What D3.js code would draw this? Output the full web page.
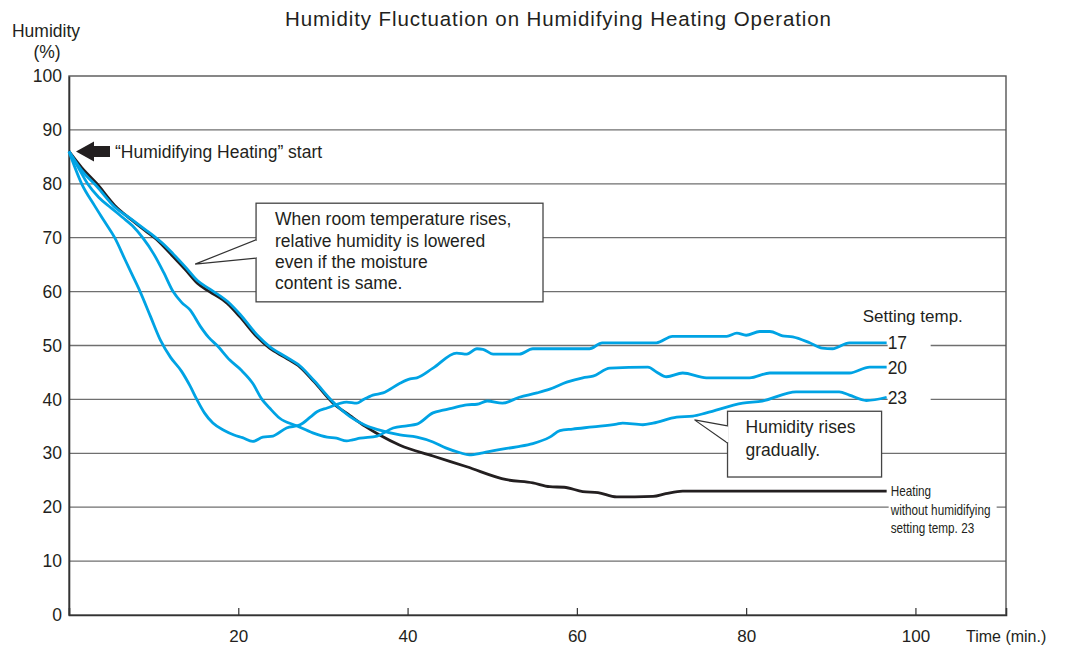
<!DOCTYPE html>
<html>
<head>
<meta charset="utf-8">
<script src="https://cdn.jsdelivr.net/npm/d3@7"></script>
<style>
  html, body { margin: 0; padding: 0; background: #fff; }
  svg { display: block; font-family: "Liberation Sans", Arial, Helvetica, sans-serif; }
</style>
</head>
<body>
<svg id="chart" width="1073" height="646"></svg>
<script>
// Humidity readings, [minutes, % RH]
const series17 = [[0,86],[1.5,80],[3,76],[4.2,73],[5.4,70],[6.6,66],[7.5,63],[8.4,60],[9.6,55.5],[10.8,51],[12,47.8],[13.3,45.2],[14.3,42.5],[15.1,40],[16,37.5],[17,35.6],[18.4,34.2],[19.5,33.4],[20.5,32.9],[21.7,32.2],[22.9,33],[24.1,33.2],[25.7,34.7],[27.3,35.3],[28.5,36.7],[29.3,37.7],[30.5,38.4],[32.8,39.5],[34,39.3],[34.7,39.9],[35.9,40.8],[37.1,41.2],[39.1,43],[40.3,43.8],[41.1,44],[43,45.8],[45.8,48.6],[47,48.4],[48.2,49.4],[48.9,49.3],[50.1,48.4],[53.2,48.4],[54.8,49.4],[61.5,49.4],[63,50.5],[69.4,50.5],[71.3,51.7],[77.7,51.7],[78.9,52.3],[80,51.9],[81.6,52.6],[82.8,52.6],[84.3,51.8],[85.5,51.6],[87.5,50.5],[89,49.5],[90.2,49.4],[92.2,50.5],[96.6,50.5]];

const series20 = [[0,86],[1.1,83],[2.2,80],[3.5,77.5],[5,75.5],[6.3,73.8],[7.5,72.2],[8.7,70],[10,67],[11.2,63.5],[12.3,60],[13.3,58],[14.3,56.6],[15.5,53.6],[16.5,51.5],[17.5,50],[19,47.3],[20.3,45.5],[21.7,43],[22.8,40],[23.7,38.4],[24.9,36.5],[26.9,35.1],[28.8,33.8],[30.5,33],[31.6,32.8],[32.8,32.3],[33.5,32.5],[34.4,32.8],[36.4,33.2],[38.3,34.7],[39.9,35.1],[41.1,35.4],[43,37.5],[44.2,38],[45.3,38.4],[47,39],[48.2,39.1],[49.4,39.7],[51.2,39.3],[53.2,40.4],[55.3,41.2],[56.8,41.9],[58.8,43.2],[60.7,44],[61.9,44.3],[63.9,45.8],[68.4,46],[69.4,45.1],[70.6,44.2],[72.5,44.9],[75.3,44],[80.4,44],[82.8,44.9],[92.2,44.9],[94.6,46],[96.6,46]];

const series23 = [[0,86],[1.5,82.5],[3.3,79.5],[5.4,75.7],[7.4,73.4],[9,71.5],[10.1,70.2],[11.3,68.6],[12.3,67],[13.9,64.3],[15.2,62],[16.6,60.5],[18.7,58.2],[20.2,55.8],[22.2,52],[23.7,49.8],[25.5,48],[27.3,46.2],[29,43.4],[31.2,39.5],[33.2,36.8],[35,35.2],[36.7,34.3],[39.1,33.4],[41.1,33],[43,32.1],[44.5,31],[46.2,30.1],[47.3,29.7],[48.9,30.1],[50.5,30.6],[52.9,31.2],[54.8,31.8],[56.8,33],[58,34.2],[59.5,34.5],[61.9,34.9],[64.7,35.4],[65.4,35.6],[67.8,35.3],[69,35.6],[71.8,36.7],[73.7,36.9],[75.3,37.5],[79.6,39.3],[81.9,39.7],[85.9,41.4],[91,41.4],[92.2,40.8],[94.2,39.8],[96.6,40.4]];

const seriesNoHumid = [[0,86],[1.5,83],[3.3,80],[5.4,76],[7.4,73.3],[9,71.3],[10.1,70],[11.3,68.2],[12.3,66.5],[13.9,63.8],[15.2,61.5],[16.6,60],[18.7,57.8],[20.2,55.3],[22.2,51.6],[23.7,49.5],[25.5,47.8],[27.3,46],[29,43.2],[31.2,39.3],[33.2,37],[35,35],[36.7,33.4],[39.1,31.5],[43,29.5],[47,27.5],[51.7,25.1],[54.8,24.5],[56.8,23.8],[58.5,23.7],[60.7,22.9],[62.5,22.7],[64.7,21.9],[69,22],[70.5,22.5],[72.5,23],[96.6,23]];

const xTicks = [20, 40, 60, 80, 100];
const yTicks = [0, 10, 20, 30, 40, 50, 60, 70, 80, 90, 100];
const endLabels = ["17", "20", "23"];
const noteLines1 = ["When room temperature rises,", "relative humidity is lowered", "even if the moisture", "content is same."];
const noteLines2 = ["Humidity rises", "gradually."];
const baseLabelLines = ["Heating", "without humidifying", "setting temp. 23"];

const BLUE = "#00a3e4";
const BLACK = "#231f20";
const GRID = "#6f6f6f";

const svg = d3.select("#chart");
const x = d3.scaleLinear().domain([0, 110.7]).range([69, 1006]);
const y = d3.scaleLinear().domain([0, 100]).range([615, 76]);

// title and axis caption
svg.append("text").attr("x", 558).attr("y", 26).attr("text-anchor", "middle")
  .attr("font-size", 20.5).attr("fill", "#231f20")
  .attr("textLength", 546).attr("lengthAdjust", "spacing")
  .text("Humidity Fluctuation on Humidifying Heating Operation");
svg.append("text").attr("x", 46).attr("y", 37).attr("text-anchor", "middle")
  .attr("font-size", 17.5).attr("fill", "#231f20").text("Humidity");
svg.append("text").attr("x", 47).attr("y", 58).attr("text-anchor", "middle")
  .attr("font-size", 17.5).attr("fill", "#231f20").text("(%)");

// horizontal grid
svg.append("g").selectAll("line").data(yTicks.filter(d => d > 0 && d < 100)).join("line")
  .attr("x1", x(0)).attr("x2", x.range()[1])
  .attr("y1", d => y(d)).attr("y2", d => y(d))
  .attr("stroke", GRID).attr("stroke-width", 1.3);

// frame
svg.append("rect").attr("x", x(0)).attr("y", y(100))
  .attr("width", x.range()[1] - x(0)).attr("height", y(0) - y(100))
  .attr("fill", "none").attr("stroke", "#555").attr("stroke-width", 1.4);

// axes
const yAxis = d3.axisLeft(y).tickValues(yTicks).tickSize(0).tickPadding(7);
svg.append("g").attr("transform", `translate(${x(0)},0)`).call(yAxis)
  .call(g => g.select(".domain").attr("stroke", "#333").attr("stroke-width", 1.6))
  .call(g => g.selectAll("text").attr("font-size", 17.5).attr("fill", "#231f20")
    .attr("font-family", "'Liberation Sans', Arial, sans-serif"));

const xAxis = d3.axisBottom(x).tickValues(xTicks).tickSize(-7).tickPadding(0);
const xg = svg.append("g").attr("transform", `translate(0,${y(0)})`).call(xAxis);
xg.select(".domain").attr("stroke", "#333").attr("stroke-width", 1.6);
xg.selectAll(".tick line").attr("stroke", "#333").attr("stroke-width", 1.2);
xg.selectAll(".tick text").attr("fill", "#231f20").attr("font-size", 17)
  .attr("font-family", "'Liberation Sans', Arial, sans-serif")
  .attr("dy", 0).attr("y", 27);
svg.append("text").attr("x", 966).attr("y", y(0) + 27)
  .attr("font-size", 16).attr("fill", "#231f20").text("Time (min.)");

// curves
const line = d3.line().x(d => x(d[0])).y(d => y(d[1])).curve(d3.curveMonotoneX);
const plotted = [
  { data: seriesNoHumid, color: BLACK },
  { data: series23, color: BLUE },
  { data: series20, color: BLUE },
  { data: series17, color: BLUE }
];
svg.append("g").selectAll("path").data(plotted).join("path")
  .attr("d", d => line(d.data)).attr("fill", "none")
  .attr("stroke", d => d.color).attr("stroke-width", 2.8)
  .attr("stroke-linejoin", "round").attr("stroke-linecap", "butt");

// setting-temperature labels at the end of each humidified curve
const ends = [series17, series20, series23].map(s => s[s.length - 1]);
const lblX = x(ends[0][0]) + 1;
svg.append("g").selectAll("rect").data(ends).join("rect")
  .attr("x", lblX).attr("y", d => y(d[1]) - 9).attr("width", 43).attr("height", 18)
  .attr("fill", "#fff");
svg.append("text").attr("x", lblX - 25).attr("y", 322)
  .attr("font-size", 17).attr("fill", "#231f20").text("Setting temp.");
svg.append("g").selectAll("text").data(ends).join("text")
  .attr("x", lblX).attr("y", d => y(d[1]) + 6.5)
  .attr("font-size", 17.5).attr("fill", "#231f20")
  .text((d, i) => endLabels[i]);

// label for the curve without humidifying
const nhEnd = seriesNoHumid[seriesNoHumid.length - 1];
svg.append("rect").attr("x", lblX + 1).attr("y", y(20) - 6)
  .attr("width", 108).attr("height", 12).attr("fill", "#fff");
const bl = svg.append("g")
  .attr("transform", `translate(${lblX + 3},${y(nhEnd[1]) + 5}) scale(0.84,1)`);
bl.selectAll("text").data(baseLabelLines).join("text")
  .attr("x", 0).attr("y", (d, i) => i * 18.6)
  .attr("font-size", 14).attr("fill", "#231f20").text(d => d);

// start arrow
const sx = x(0) + 7, sy = y(86);
svg.append("path")
  .attr("d", `M${sx},${sy} L${sx + 18},${sy - 10} L${sx + 18},${sy - 5.5} L${sx + 34},${sy - 5.5} L${sx + 34},${sy + 5.5} L${sx + 18},${sy + 5.5} L${sx + 18},${sy + 10} Z`)
  .attr("fill", "#231f20");
svg.append("text").attr("x", sx + 39).attr("y", sy + 7)
  .attr("font-size", 17.5).attr("fill", "#231f20")
  .text("\u201CHumidifying Heating\u201D start");

// callout boxes
function callout(box, tip, base, lines, pad, lead) {
  const x0 = x(box[0]), x1 = x(box[1]), y0 = y(box[2]), y1 = y(box[3]);
  const g = svg.append("g");
  g.append("rect").attr("x", x0).attr("y", y0).attr("width", x1 - x0).attr("height", y1 - y0)
    .attr("fill", "#fff").attr("stroke", "#444").attr("stroke-width", 1.3);
  const b0 = y(base[0]), b1 = y(base[1]);
  g.append("path")
    .attr("d", `M${x0},${b0} L${x(tip[0])},${y(tip[1])} L${x0},${b1}`)
    .attr("fill", "#fff").attr("stroke", "#333").attr("stroke-width", 1.2);
  g.append("line").attr("x1", x0).attr("x2", x0).attr("y1", b0 + 1).attr("y2", b1 - 1)
    .attr("stroke", "#fff").attr("stroke-width", 2);
  g.selectAll("text").data(lines).join("text")
    .attr("x", x0 + pad).attr("y", (d, i) => y0 + 22 + i * lead)
    .attr("font-size", 17.5).attr("fill", "#231f20").text(d => d);
}
callout([22.1, 56.0, 76.4, 58.1], [14.9, 65.1], [69.6, 66.2], noteLines1, 19, 21.3);
callout([77.8, 96.0, 37.8, 25.6], [73.9, 36.2], [35.1, 31.9], noteLines2, 18, 23);
</script>
</body>
</html>
